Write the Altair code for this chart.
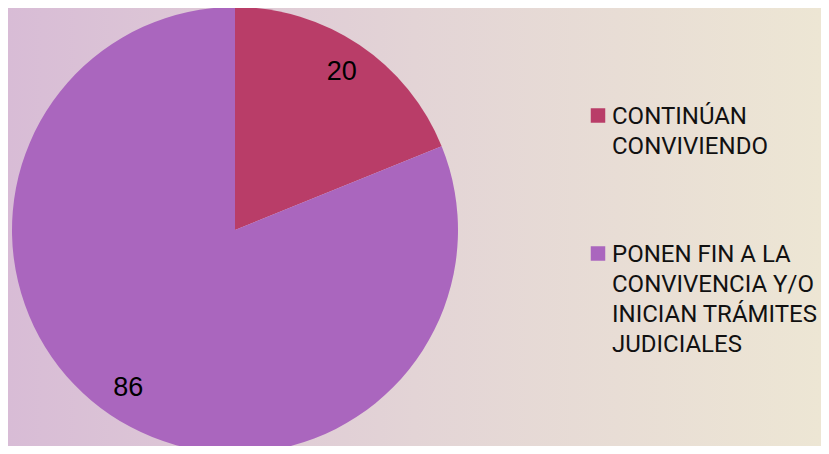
import altair as alt
import pandas as pd

categories = ["CONTINÚAN CONVIVIENDO", "PONEN FIN A LA CONVIVENCIA Y/O INICIAN TRÁMITES JUDICIALES"]
values = [20, 86]
legend_labels = ["CONTINÚAN\nCONVIVIENDO", "PONEN FIN A LA\nCONVIVENCIA Y/O\nINICIAN TRÁMITES\nJUDICIALES"]
colors = ["#B93D68", "#AA66BE"]

df = pd.DataFrame({"cat": categories, "value": values, "legend": legend_labels, "order": [0, 1]})

W, H = 813, 438
CX, CY, R = 227, 222, 223

color = alt.Color("cat:N", scale=alt.Scale(domain=categories, range=colors), legend=None)

bg = alt.Chart(pd.DataFrame({"a": [0]})).mark_rect(
    fill=alt.Gradient(
        gradient="linear",
        stops=[
            alt.GradientStop(color="#D8BCD6", offset=0),
            alt.GradientStop(color="#E3D4D6", offset=0.5),
            alt.GradientStop(color="#EDE6D4", offset=1),
        ],
        x1=0, x2=1, y1=0, y2=0,
    )
).encode(x=alt.value(0), x2=alt.value(W), y=alt.value(0), y2=alt.value(H))

base = alt.Chart(df).encode(
    theta=alt.Theta("value:Q", stack=True),
    order=alt.Order("order:Q"),
)

pie = base.mark_arc(radius=R, stroke=None).encode(
    color=color, x=alt.value(CX), y=alt.value(CY)
)

labels = base.mark_text(
    radius=191, font="Liberation Sans", fontSize=27, color="black",
    align="center", baseline="middle",
).encode(text=alt.Text("value:Q"), x=alt.value(CX), y=alt.value(CY))

ysc = alt.Scale(domain=categories, range=[107.5, 245.5], type="point", padding=0)

leg_sq = alt.Chart(df).mark_square(size=210, opacity=1, filled=True).encode(
    x=alt.value(590),
    y=alt.Y("cat:N", scale=ysc, axis=None),
    color=color,
)

leg_txt = alt.Chart(df).mark_text(
    align="left", baseline="alphabetic", font="Roboto", fontSize=24,
    lineBreak="\n", lineHeight=30, color="#111111", dy=8,
).encode(
    x=alt.value(604),
    y=alt.Y("cat:N", scale=ysc, axis=None),
    text="legend:N",
)

chart = alt.layer(bg, pie, labels, leg_sq, leg_txt).properties(
    width=W, height=H, padding=0, autosize=alt.AutoSizeParams(type="none"),
    background="#E3D4D6",
).configure_view(stroke=None)

chart.save("out.html", embed_options={"renderer": "svg", "actions": False})
